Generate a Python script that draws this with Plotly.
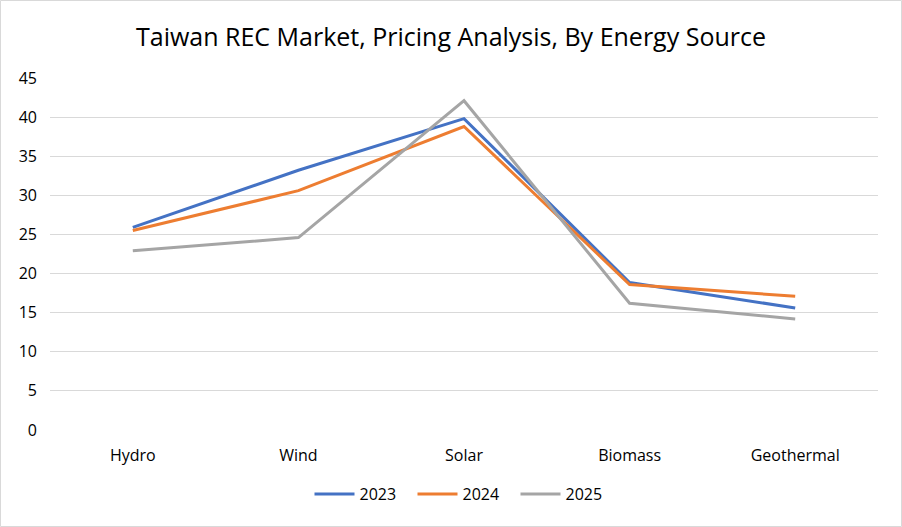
import plotly.graph_objects as go

W, H = 902, 527
ML, MR, MT, MB = 50, 24, 78, 97

categories = ["Hydro", "Wind", "Solar", "Biomass", "Geothermal"]
years = ["2023", "2024", "2025"]
values_2023 = [25.9, 33.2, 39.8, 18.85, 15.6]
values_2024 = [25.5, 30.6, 38.8, 18.6, 17.1]
values_2025 = [22.9, 24.6, 42.1, 16.2, 14.2]
y_ticks = [0, 5, 10, 15, 20, 25, 30, 35, 40, 45]

colors = ["#4472C4", "#ED7D31", "#A5A5A5"]
FONT = "Open Sans"

fig = go.Figure()
for name, vals, col in zip(years, [values_2023, values_2024, values_2025], colors):
    fig.add_trace(go.Scatter(
        name=name, x=categories, y=vals,
        mode="lines",
        line=dict(color=col, width=3),
    ))

# chart outer border
pw, ph = W - ML - MR, H - MT - MB
fig.add_shape(
    type="rect", xref="paper", yref="paper",
    x0=(0.5 - ML) / pw, x1=(W - 0.5 - ML) / pw,
    y0=(H - MB - (H - 0.5)) / ph, y1=(H - MB - 0.5) / ph,
    line=dict(color="#D9D9D9", width=1),
)

fig.update_layout(
    width=W, height=H,
    margin=dict(l=ML, r=MR, t=MT, b=MB),
    paper_bgcolor="white", plot_bgcolor="white",
    font=dict(family=FONT, color="#595959", size=16),
    title=dict(
        text="Taiwan REC Market, Pricing Analysis, By Energy Source",
        x=0.5, xanchor="center", y=1 - 37 / H, yanchor="middle",
        font=dict(family=FONT, size=25, color="#000000"),
    ),
    xaxis=dict(
        showgrid=False, showline=False, zeroline=False,
        ticks="", ticklabelstandoff=14,
        range=[-0.5, 4.5],
        tickfont=dict(color="#000000", size=16),
    ),
    yaxis=dict(
        range=[0, 45], tickvals=y_ticks,
        showgrid=True, gridcolor="#D9D9D9", gridwidth=1,
        zeroline=False, showline=False, ticks="",
        tickfont=dict(color="#000000", size=16),
        ticklabelstandoff=12,
    ),
    legend=dict(
        orientation="h", x=0.5, xanchor="center",
        y=(H - MB - 494) / ph, yanchor="middle",
        font=dict(color="#000000", size=16),
        itemwidth=40, entrywidth=48, entrywidthmode="pixels",
    ),
    showlegend=True,
)

fig.write_html("out.html", config={"displayModeBar": False},
               post_script="document.body.style.margin='0';")
